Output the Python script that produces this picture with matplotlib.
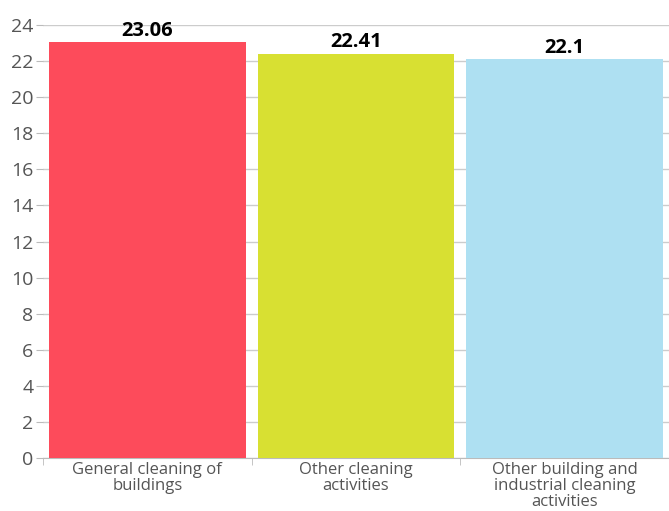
import matplotlib
matplotlib.use("Agg")
import matplotlib.pyplot as plt
import numpy as np

categories = ["General cleaning of\nbuildings", "Other cleaning\nactivities",
              "Other building and\nindustrial cleaning\nactivities"]
values = [23.06, 22.41, 22.1]
value_labels = ["23.06", "22.41", "22.1"]
colors = ["#fd4b5b", "#d8e032", "#aee0f2"]
yticks = list(range(0, 25, 2))

plt.rcParams['font.family'] = ['Open Sans', 'DejaVu Sans']

fig = plt.figure(figsize=(6.69, 5.11), dpi=100)
ax = fig.add_axes([43/669, 1-458/511, 1-43/669, (458-25)/511])

x = np.arange(len(categories))
ax.bar(x, values, width=0.944, color=colors, zorder=3)
for xi, v, lab in zip(x, values, value_labels):
    ax.text(xi, v + 0.08, lab, ha='center', va='bottom', fontsize=14.5,
            fontweight='bold', color='black', zorder=4)

ax.set_xlim(-0.5, 2.5)
ax.set_ylim(0, 24)
ax.set_yticks(yticks)
ax.set_yticklabels([str(t) for t in yticks], fontsize=14, color='#555555')
ax.yaxis.grid(True, color='#cccccc', linewidth=1, zorder=0)
ax.set_xticks(x)
ax.set_xticklabels(categories, fontsize=12, color='#555555', linespacing=1.0)
ax.tick_params(axis='x', which='major', length=0, pad=3)
ax.set_xticks([-0.5, 0.5, 1.5, 2.5], minor=True)
ax.tick_params(axis='x', which='minor', length=5, color='#bbbbbb')
ax.tick_params(axis='y', length=5, color='#bbbbbb', pad=2)
for s in ['top', 'right', 'left']:
    ax.spines[s].set_visible(False)
ax.spines['bottom'].set_color('#bbbbbb')

fig.savefig("out.png", dpi=100)
